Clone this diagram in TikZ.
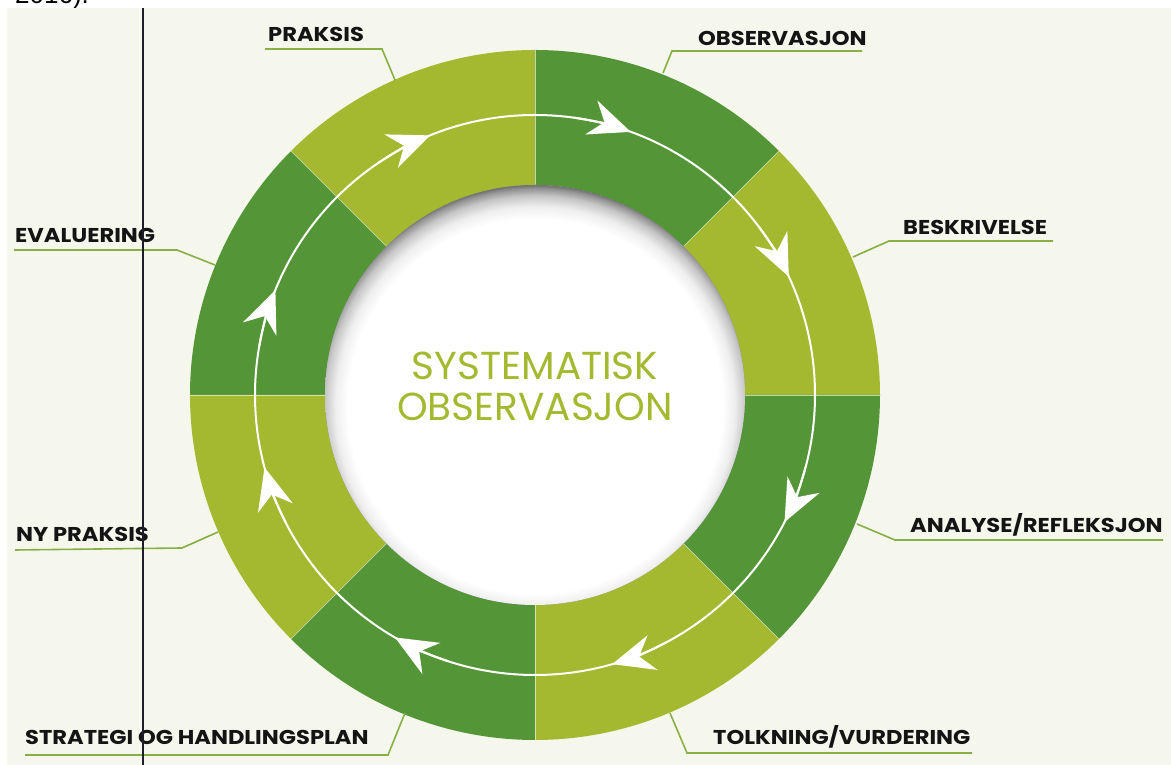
\documentclass[tikz,border=0pt]{standalone}
\usepackage{fontspec}
\setmainfont{Poppins}
\newfontfamily\lblfont{Poppins}[FakeStretch=1.13]
\newfontfamily\citefont{Liberation Sans}
\usetikzlibrary{arrows.meta,calc}
\definecolor{dkgreen}{HTML}{549637}
\definecolor{ltgreen}{HTML}{A4B930}
\definecolor{cream}{HTML}{F5F7EC}
\definecolor{leader}{HTML}{86B046}
\definecolor{ink}{HTML}{141414}
\definecolor{shadowgray}{HTML}{707070}
\definecolor{rule}{HTML}{1E1E2A}
\colorlet{shA}{shadowgray!12!white}
\colorlet{shB}{shadowgray!40!white}
\colorlet{shC}{shadowgray!75!white}
\pgfdeclareradialshading{innershadow}{\pgfpoint{0bp}{0bp}}{%
  color(0bp)=(white); color(21.2bp)=(white); color(22.6bp)=(shA);
  color(23.8bp)=(shB); color(24.6bp)=(shC); color(25bp)=(shadowgray); color(50bp)=(shadowgray)}
\begin{document}
\begin{tikzpicture}[x=1pt,y=1pt,
  lbl/.style={anchor=base west, inner sep=0pt, text=ink, font=\lblfont\fontsize{20}{24}\selectfont\bfseries},
  leadline/.style={draw=leader, line width=1.6pt},
  cyc/.style={draw=white, line width=2pt},
  cyctip/.style={draw=white, line width=2pt, -{Stealth[length=42pt,width=36pt,inset=14pt]}},
  centertext/.style={anchor=base, inner sep=0pt, text=ltgreen, font=\fontsize{39}{43}\selectfont}
]
\useasboundingbox (0,0) rectangle (1171,765);
% page background
\fill[white] (0,0) rectangle (1171,765);
\begin{scope}
  \clip (0,757) rectangle (1171,765);
  \node[anchor=base west, inner sep=0pt, font=\citefont\fontsize{26}{30}\selectfont] (cite) at (15,761) {2016).};
\end{scope}
\fill[cream] (7,0) rectangle (1171,757);

\coordinate (c) at (535,370);

% ring sectors
\foreach \k in {0,...,7}{
  \pgfmathsetmacro{\a}{45*\k}
  \pgfmathsetmacro{\b}{45*\k+45}
  \pgfmathtruncatemacro{\odd}{mod(\k,2)}
  \ifnum\odd=1 \def\col{dkgreen}\else\def\col{ltgreen}\fi
  \fill[\col] ([shift={(c)}]\a:345) arc (\a:\b:345) -- ([shift={(c)}]\b:210) arc (\b:\a:210) -- cycle;
}
\foreach \k in {0,...,7}{
  \draw[white, opacity=0.6, line width=0.5pt] ([shift={(c)}]45*\k:210) -- ([shift={(c)}]45*\k:345);
}

% inner circle with shadow
\begin{scope}
  \clip (c) circle (210);
  \fill[shadowgray] (c) circle (212);
  \shade[shading=innershadow] ([yshift=-11pt]c) circle (221);
\end{scope}

% cycle circle and arrowheads
\draw[cyc] (c) circle (280);
\foreach \t in {70,25,-27,-74,-120,-165,158,112}{
  \draw[cyctip] ([shift={(c)}]\t+12:280) arc (\t+12:\t:280);
}

% centre text
\node[centertext] (t1) at (535,385) {SYSTEMATISK};
\node[centertext] (t2) at (535,344) {OBSERVASJON};

% labels
\node[lbl] (praksis) at (268,723) {PRAKSIS};
\node[lbl] (observ) at (698,719) {OBSERVASJON};
\node[lbl] (evalu) at (15,522) {EVALUERING};
\node[lbl] (beskr) at (903,530) {BESKRIVELSE};
\node[lbl] (nypr) at (16,223) {NY PRAKSIS};
\node[lbl] (analyse) at (910,232) {ANALYSE/REFLEKSJON};
\node[lbl] (strat) at (25,20) {STRATEGI OG HANDLINGSPLAN};
\node[lbl] (tolk) at (713,20) {TOLKNING/VURDERING};

% leader lines
\coordinate (praksisR) at (395,685); \coordinate (praksisB) at (382,716); \coordinate (praksisE) at (265,716);
\coordinate (observR) at (663,692); \coordinate (observB) at (672,714); \coordinate (observE) at (862,714);
\coordinate (evaluR) at (215,500); \coordinate (evaluB) at (177,515); \coordinate (evaluE) at (14,515);
\coordinate (beskrR) at (853,508); \coordinate (beskrB) at (889,524); \coordinate (beskrE) at (1053,524);
\coordinate (nyprR) at (218,233); \coordinate (nyprB) at (182,217); \coordinate (nyprE) at (15,215);
\coordinate (analyseR) at (857,241); \coordinate (analyseB) at (895,225); \coordinate (analyseE) at (1163,225);
\coordinate (stratR) at (405,52); \coordinate (stratB) at (388,10); \coordinate (stratE) at (25,10);
\coordinate (tolkR) at (670,52); \coordinate (tolkB) at (687,12); \coordinate (tolkE) at (972,12);
\foreach \n in {praksis,observ,evalu,beskr,nypr,analyse,strat,tolk}{
  \draw[leadline] (\n R) -- (\n B) -- (\n E);
}

% vertical rule
\coordinate (vtop) at (143,757);
\coordinate (vbot) at (143,0);
\draw[rule, line width=1.5pt] (vtop) -- (vbot);
\end{tikzpicture}
\end{document}
